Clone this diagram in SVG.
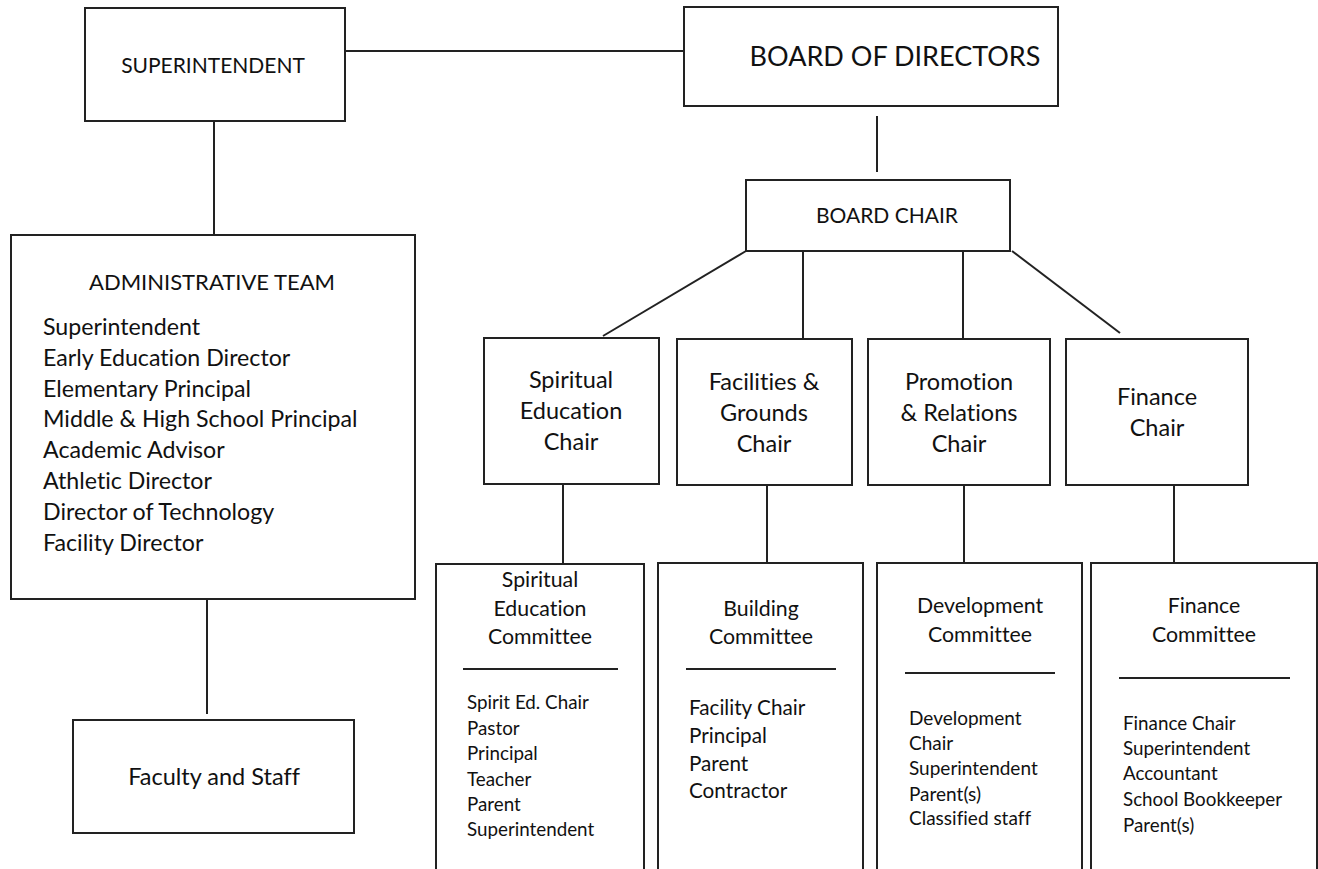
<svg xmlns="http://www.w3.org/2000/svg" width="1318" height="869" viewBox="0 0 1318 869">
<style>
.box{fill:#fff;stroke:#222;stroke-width:2}
.ln{stroke:#222;stroke-width:2;fill:none}
text{font-family:Lato,"Open Sans","Liberation Sans",sans-serif;fill:#111;font-variant-ligatures:none}
.c{text-anchor:middle}
</style>
<rect width="1318" height="869" fill="#fff"/>
<g id="connectors">
<line class="ln" x1="345" y1="51" x2="684" y2="51"/>
<line class="ln" x1="214" y1="121" x2="214" y2="235"/>
<line class="ln" x1="207" y1="599" x2="207" y2="714"/>
<line class="ln" x1="877" y1="116" x2="877" y2="172"/>
<line class="ln" x1="746" y1="251" x2="603" y2="336"/>
<line class="ln" x1="803" y1="251" x2="803" y2="339"/>
<line class="ln" x1="963" y1="251" x2="963" y2="339"/>
<line class="ln" x1="1012" y1="251" x2="1120" y2="333"/>
<line class="ln" x1="563" y1="484" x2="563" y2="564"/>
<line class="ln" x1="767" y1="480" x2="767" y2="563"/>
<line class="ln" x1="964" y1="483" x2="964" y2="563"/>
<line class="ln" x1="1174" y1="485" x2="1174" y2="563"/>
</g>
<g id="superintendent">
<rect class="box" x="85" y="8" width="260" height="113"/>
<text class="c" x="213" y="73" font-size="21">SUPERINTENDENT</text>
</g>
<g id="board-of-directors">
<rect class="box" x="684" y="7" width="374" height="99"/>
<text class="c" x="895" y="66" font-size="27">BOARD OF DIRECTORS</text>
</g>
<g id="board-chair">
<rect class="box" x="746" y="180" width="264" height="71"/>
<text class="c" x="887" y="223" font-size="21">BOARD CHAIR</text>
</g>
<g id="admin-team">
<rect class="box" x="11" y="235" width="404" height="364"/>
<text class="c" x="212" y="290" font-size="22">ADMINISTRATIVE TEAM</text>
<g font-size="23.2">
<text x="43" y="335">Superintendent</text>
<text x="43" y="366">Early Education Director</text>
<text x="43" y="397">Elementary Principal</text>
<text x="43" y="427">Middle &amp; High School Principal</text>
<text x="43" y="458">Academic Advisor</text>
<text x="43" y="489">Athletic Director</text>
<text x="43" y="520">Director of Technology</text>
<text x="43" y="551">Facility Director</text>
</g>
</g>
<g id="faculty-staff">
<rect class="box" x="73" y="720" width="281" height="113"/>
<text class="c" x="214" y="785" font-size="23.5">Faculty and Staff</text>
</g>
<g id="spiritual-chair">
<rect class="box" x="484" y="338" width="175" height="146"/>
<g class="c" font-size="23.5">
<text x="571" y="388">Spiritual</text>
<text x="571" y="419">Education</text>
<text x="571" y="450">Chair</text>
</g>
</g>
<g id="facilities-chair">
<rect class="box" x="677" y="339" width="175" height="146"/>
<g class="c" font-size="23.5">
<text x="764" y="390">Facilities &amp;</text>
<text x="764" y="421">Grounds</text>
<text x="764" y="452">Chair</text>
</g>
</g>
<g id="promotion-chair">
<rect class="box" x="868" y="339" width="182" height="146"/>
<g class="c" font-size="23.5">
<text x="959" y="390">Promotion</text>
<text x="959" y="421">&amp; Relations</text>
<text x="959" y="452">Chair</text>
</g>
</g>
<g id="finance-chair">
<rect class="box" x="1066" y="339" width="182" height="146"/>
<g class="c" font-size="23.5">
<text x="1157" y="405">Finance</text>
<text x="1157" y="436">Chair</text>
</g>
</g>
<g id="spiritual-committee">
<rect class="box" x="436" y="564" width="208" height="320"/>
<g class="c" font-size="21.3">
<text x="540" y="587">Spiritual</text>
<text x="540" y="616">Education</text>
<text x="540" y="644">Committee</text>
</g>
<line class="ln" x1="463" y1="669" x2="618" y2="669"/>
<g font-size="18.8">
<text x="467" y="709">Spirit Ed. Chair</text>
<text x="467" y="735">Pastor</text>
<text x="467" y="760">Principal</text>
<text x="467" y="786">Teacher</text>
<text x="467" y="811">Parent</text>
<text x="467" y="836">Superintendent</text>
</g>
</g>
<g id="building-committee">
<rect class="box" x="658" y="563" width="205" height="320"/>
<g class="c" font-size="21.3">
<text x="761" y="616">Building</text>
<text x="761" y="644">Committee</text>
</g>
<line class="ln" x1="686" y1="669" x2="836" y2="669"/>
<g font-size="20.7">
<text x="689" y="715">Facility Chair</text>
<text x="689" y="743">Principal</text>
<text x="689" y="771">Parent</text>
<text x="689" y="798">Contractor</text>
</g>
</g>
<g id="development-committee">
<rect class="box" x="877" y="563" width="205" height="320"/>
<g class="c" font-size="21.3">
<text x="980" y="613">Development</text>
<text x="980" y="642">Committee</text>
</g>
<line class="ln" x1="905" y1="673" x2="1055" y2="673"/>
<g font-size="19">
<text x="909" y="725">Development</text>
<text x="909" y="750">Chair</text>
<text x="909" y="775">Superintendent</text>
<text x="909" y="801">Parent(s)</text>
<text x="909" y="825">Classified staff</text>
</g>
</g>
<g id="finance-committee">
<rect class="box" x="1091" y="563" width="226" height="320"/>
<g class="c" font-size="21.3">
<text x="1204" y="613">Finance</text>
<text x="1204" y="642">Committee</text>
</g>
<line class="ln" x1="1119" y1="678" x2="1290" y2="678"/>
<g font-size="18.8">
<text x="1123" y="730">Finance Chair</text>
<text x="1123" y="755">Superintendent</text>
<text x="1123" y="780">Accountant</text>
<text x="1123" y="806">School Bookkeeper</text>
<text x="1123" y="832">Parent(s)</text>
</g>
</g>
</svg>
